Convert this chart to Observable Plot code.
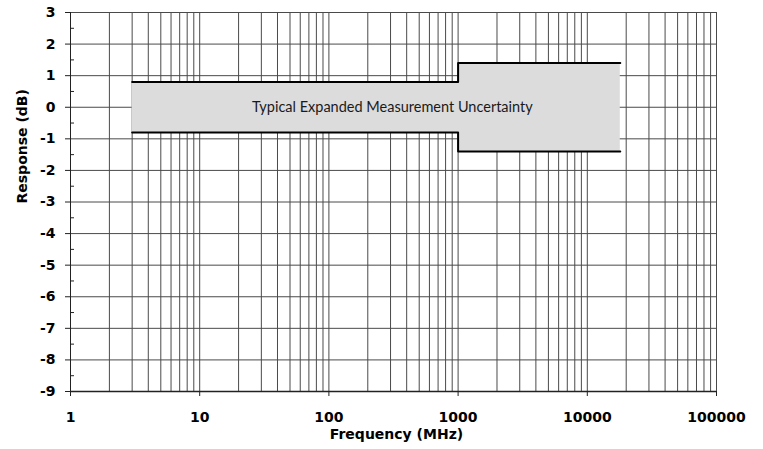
<!DOCTYPE html>
<html><head><meta charset="utf-8">
<script src="https://cdn.jsdelivr.net/npm/d3@7"></script>
<script src="https://cdn.jsdelivr.net/npm/@observablehq/plot@0.6"></script>
<style>body{margin:0;background:#fff}</style>
</head><body><div id="chart"></div>
<script>
// Uncertainty band: frequency breakpoints (MHz) and upper/lower bounds (dB)
const freqMHz = [3, 1000, 18000];
const upperDb = [0.8, 1.4, 1.4];
const lowerDb = [-0.8, -1.4, -1.4];

const xTickValues = [1, 10, 100, 1000, 10000, 100000];
const yTickValues = [3, 2, 1, 0, -1, -2, -3, -4, -5, -6, -7, -8, -9];
const yMinorTicks = [2.5, 1.5, 0.5, -0.5, -1.5, -2.5, -3.5, -4.5, -5.5, -6.5, -7.5, -8.5];
const decadeMultipliers = [1, 2, 3, 4, 5, 6, 7, 8, 9];
const decades = [1, 10, 100, 1000, 10000];
const xGrid = decades.flatMap(d => decadeMultipliers.map(m => m * d)).concat([100000]);

const bandLabel = "Typical Expanded Measurement Uncertainty";
const bandLabelFreq = 310;
const bandLabelDb = 0;
const xTitle = "Frequency (MHz)";
const yTitle = "Response (dB)";

const rows = freqMHz.map((f, i) => ({f, hi: upperDb[i], lo: lowerDb[i]}));
const gridColor = "#4a4a4a";

const chart = Plot.plot({
  width: 763,
  height: 449,
  marginLeft: 70,
  marginRight: 47,
  marginTop: 12,
  marginBottom: 58,
  style: {fontFamily: "DejaVu Sans", fontSize: "14px", fontWeight: "bold", color: "#000", background: "#fff"},
  x: {type: "log", domain: [1, 100000]},
  y: {domain: [-9, 3]},
  marks: [
    Plot.ruleX(xGrid, {stroke: gridColor, strokeWidth: 1}),
    Plot.ruleY(yTickValues, {stroke: gridColor, strokeWidth: 1}),
    Plot.areaY(rows, {x: "f", y1: "lo", y2: "hi", curve: "step-after", fill: "#dcdcdc"}),
    Plot.line(rows, {x: "f", y: "hi", curve: "step-after", stroke: "#000", strokeWidth: 2}),
    Plot.line(rows, {x: "f", y: "lo", curve: "step-after", stroke: "#000", strokeWidth: 2}),
    Plot.text([bandLabel], {x: () => bandLabelFreq, y: () => bandLabelDb, text: d => d, fontFamily: "Lato", fontSize: 14.5, fontWeight: "normal", fill: "#1a1a1a"}),
    Plot.ruleX([1], {stroke: "#222", strokeWidth: 1}),
    Plot.ruleY([-9], {stroke: "#222", strokeWidth: 1.5}),
    Plot.axisX({ticks: xTickValues, tickFormat: d => String(d), tickSize: 5, tickPadding: 16, label: null, stroke: "#222"}),
    Plot.axisY({ticks: yTickValues, tickFormat: d => String(d), tickSize: 5, tickPadding: 10, label: null, stroke: "#222"}),
    Plot.axisY({ticks: yMinorTicks, tickFormat: null, text: null, tickSize: -4, label: null, stroke: "#222"}),
    Plot.text([xTitle], {frameAnchor: "bottom", text: d => d, dx: 3, dy: 47, fontSize: 14, fontWeight: "bold"}),
    Plot.text([yTitle], {frameAnchor: "left", text: d => d, rotate: -90, dx: -48, dy: 1.5, fontSize: 14, fontWeight: "bold"})
  ]
});
document.getElementById("chart").appendChild(chart);
</script>
</body></html>
